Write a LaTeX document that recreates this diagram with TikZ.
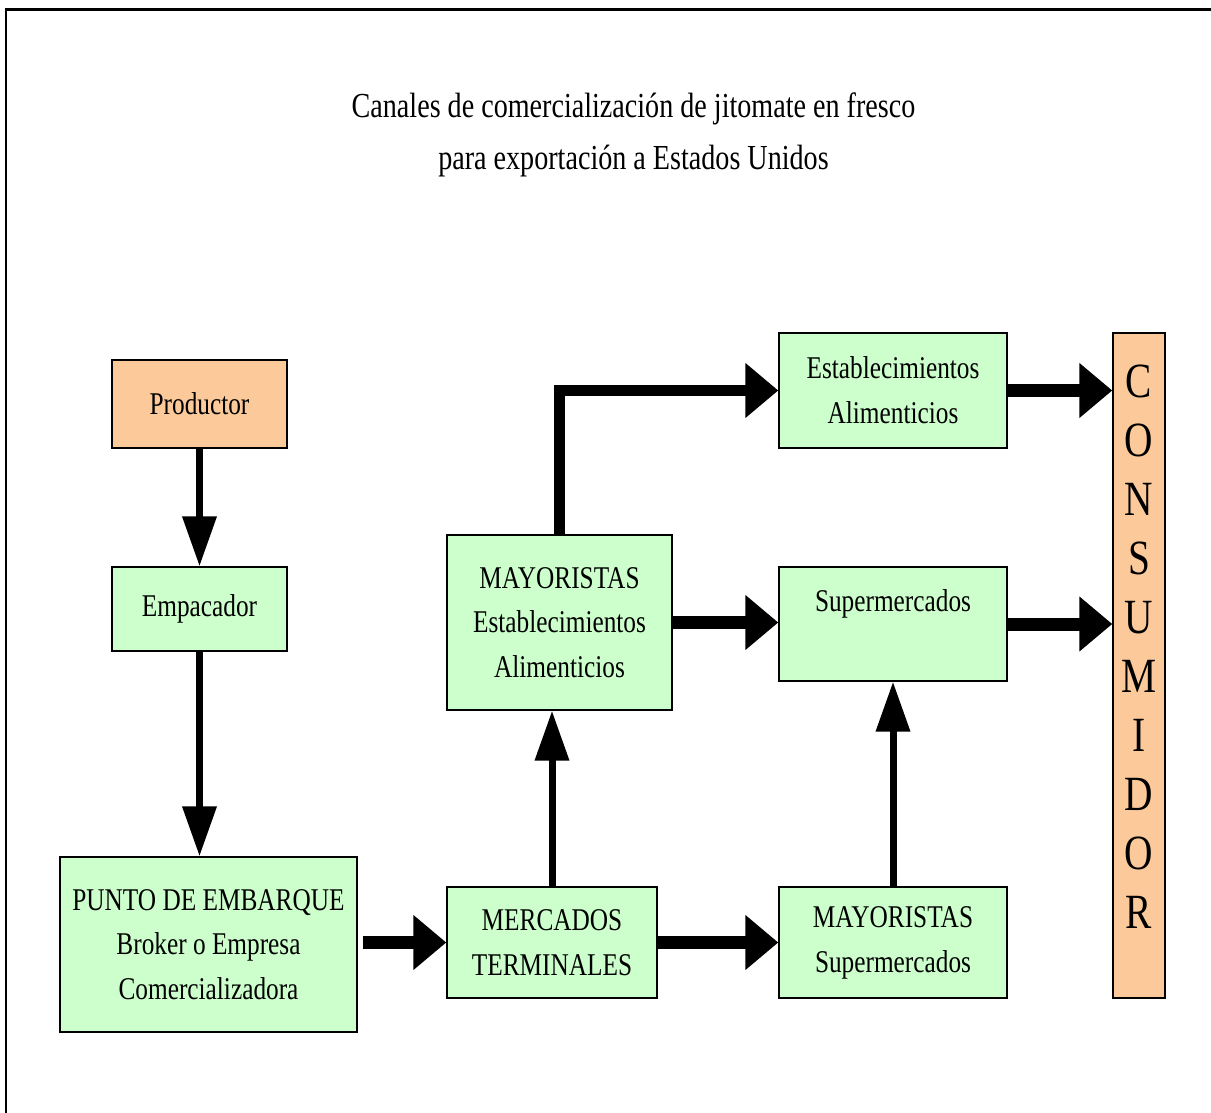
\documentclass[tikz,border=0pt]{standalone}
\usepackage{fontspec}
\setmainfont[FakeStretch=0.8]{Liberation Serif}
\usetikzlibrary{arrows.meta}
\definecolor{verde}{HTML}{CCFFCC}
\definecolor{naranja}{HTML}{FCCA9A}

\begin{document}
\begin{tikzpicture}[
    caja/.style={draw=black,line width=0.8pt,fill=verde,align=center,inner sep=2pt,
        font=\fontsize{18}{25.5}\selectfont},
    flecha/.style={line width=0.26cm,-{Triangle[width=1.06cm,length=0.66cm]}},
    flechav/.style={line width=0.14cm,-{Triangle[width=0.66cm,length=1.0cm]}}
]

    \useasboundingbox (0,0) rectangle (24.22,-22.26);

    \draw[line width=0.06cm] (0.1,-0.2) -- (24.22,-0.2);
    \draw[line width=0.03cm] (0.12,-0.2) -- (0.12,-22.26);

    \node (titulo) [align=center,font=\fontsize{20}{29.5}\selectfont] at (12.67,-2.7)
        {Canales de comercialización de jitomate en fresco\\para exportación a Estados Unidos};

    \node (prod)   [caja,fill=naranja,minimum width=3.5cm,minimum height=1.76cm] at (3.99,-8.08) {Productor};
    \node (emp)    [caja,minimum width=3.5cm,minimum height=1.68cm]  at (3.99,-12.18) {Empacador};
    \node (punto)  [caja,minimum width=5.94cm,minimum height=3.5cm]  at (4.17,-18.89)
        {PUNTO DE EMBARQUE\\Broker o Empresa\\Comercializadora};
    \node (merc)   [caja,minimum width=4.2cm,minimum height=2.22cm]  at (11.04,-18.85) {MERCADOS\\TERMINALES};
    \node (maysup) [caja,minimum width=4.56cm,minimum height=2.22cm] at (17.86,-18.85) {MAYORISTAS\\Supermercados};
    \node (mayest) [caja,minimum width=4.5cm,minimum height=3.5cm]   at (11.19,-12.45)
        {MAYORISTAS\\Establecimientos\\Alimenticios};
    \node (sup)    [caja,minimum width=4.56cm,minimum height=2.28cm,text depth=0.95cm] at (17.86,-12.48) {Supermercados};
    \node (est)    [caja,minimum width=4.56cm,minimum height=2.3cm]  at (17.86,-7.81) {Establecimientos\\Alimenticios};
    \node (cons)   [caja,fill=naranja,minimum width=1.04cm,minimum height=13.3cm,text depth=0.75cm,
        font=\fontsize{28}{33.6}\selectfont] at (22.78,-13.31) {C\\O\\N\\S\\U\\M\\I\\D\\O\\R};

    % flechas verticales
    \draw[flechav] (prod.south) -- (emp.north);
    \draw[flechav] (emp.south) -- (emp.south |- punto.north);
    \draw[flechav] (merc.north) -- (merc.north |- mayest.south);
    \draw[flechav] (maysup.north) -- (sup.south);

    % flechas horizontales
    \draw[flecha,shorten <=0.1cm] (punto.east |- merc.west) -- (merc.west);
    \draw[flecha] (merc.east) -- (maysup.west);
    \draw[flecha] (mayest.east) -- (mayest.east -| sup.west);
    \draw[flecha,line width=0.22cm] (mayest.north) |- (est.west);
    \draw[flecha] (est.east) -- (est.east -| cons.west);
    \draw[flecha] (sup.east) -- (sup.east -| cons.west);

\end{tikzpicture}
\end{document}
